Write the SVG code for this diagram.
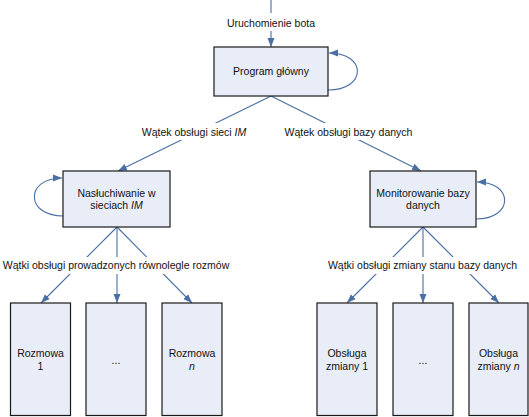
<svg xmlns="http://www.w3.org/2000/svg" width="529" height="417" viewBox="0 0 529 417">
<style>
.box{fill:#E8EDF7;stroke:#1a1a1a;stroke-width:1.2}
.t{font-family:"Liberation Sans",Arial,sans-serif;font-size:10.5px;fill:#111;text-anchor:middle}
.c{fill:none;stroke:#4A6FA5;stroke-width:1.1;marker-end:url(#ah)}
.bg{fill:#fff}
</style>
<defs>
<marker id="ah" markerUnits="userSpaceOnUse" markerWidth="10" markerHeight="10" viewBox="0 0 10 10" refX="9" refY="5" orient="auto">
<path d="M0,1.5 L9,5 L0,8.5 Z" fill="#4A6FA5"/>
</marker>
</defs>
<rect width="529" height="417" fill="#fff"/>
<g id="connectors">
<path class="c" d="M271,0 L271,47"/>
<path class="c" d="M328,90 C367,90 367,53 329,53"/>
<path class="c" d="M271,96 L118,171"/>
<path class="c" d="M271,96 L421,171"/>
<path class="c" d="M63,216 C25,216 25,178 62,178"/>
<path class="c" d="M476,219 C514,219 514,182 477,182"/>
<path class="c" d="M117,227 L41,303"/>
<path class="c" d="M117,227 L117,303"/>
<path class="c" d="M117,227 L192,303"/>
<path class="c" d="M423,227 L347,303"/>
<path class="c" d="M423,227 L423,303"/>
<path class="c" d="M423,227 L499,303"/>
</g>
<g id="labels">
<rect class="bg" x="226" y="13" width="92" height="18"/>
<text class="t" x="271" y="26.5">Uruchomienie bota</text>
<rect class="bg" x="139" y="123" width="111" height="17"/>
<text class="t" x="194" y="136">Wątek obsługi sieci <tspan font-style="italic">IM</tspan></text>
<rect class="bg" x="281" y="123" width="136" height="17"/>
<text class="t" x="348.5" y="136">Wątek obsługi bazy danych</text>
<rect class="bg" x="0" y="257" width="233" height="17"/>
<text class="t" x="116" y="269">Wątki obsługi prowadzonych równolegle rozmów</text>
<rect class="bg" x="325" y="257" width="195" height="17"/>
<text class="t" x="422.5" y="269">Wątki obsługi zmiany stanu bazy danych</text>
</g>
<g id="program">
<rect class="box" x="214" y="47" width="114" height="49"/>
<text class="t" x="271" y="74.5">Program główny</text>
</g>
<g id="nasluchiwanie">
<rect class="box" x="63" y="171" width="107" height="56"/>
<text class="t" x="116.5" y="196.5">Nasłuchiwanie w</text>
<text class="t" x="116.5" y="208.5">sieciach <tspan font-style="italic">IM</tspan></text>
</g>
<g id="monitorowanie">
<rect class="box" x="370" y="171" width="106" height="56"/>
<text class="t" x="423" y="196.5">Monitorowanie bazy</text>
<text class="t" x="423" y="208.5">danych</text>
</g>
<g id="rozmowa1">
<rect class="box" x="10.5" y="303" width="60" height="112.5"/>
<text class="t" x="40.5" y="356.5">Rozmowa</text>
<text class="t" x="40.5" y="370">1</text>
</g>
<g id="rozmowa-dots">
<rect class="box" x="86" y="303" width="60" height="112.5"/>
<text class="t" x="116" y="364" font-size="8">...</text>
</g>
<g id="rozmowan">
<rect class="box" x="162" y="303" width="60" height="112.5"/>
<text class="t" x="192" y="356.5">Rozmowa</text>
<text class="t" x="192" y="370" font-style="italic">n</text>
</g>
<g id="obsluga1">
<rect class="box" x="317" y="303" width="60" height="112.5"/>
<text class="t" x="347" y="356.5">Obsługa</text>
<text class="t" x="347" y="370">zmiany 1</text>
</g>
<g id="obsluga-dots">
<rect class="box" x="393" y="303" width="60" height="112.5"/>
<text class="t" x="423" y="364" font-size="8">...</text>
</g>
<g id="obslugan">
<rect class="box" x="469" y="303" width="59" height="112.5"/>
<text class="t" x="498.5" y="356.5">Obsługa</text>
<text class="t" x="498.5" y="370">zmiany <tspan font-style="italic">n</tspan></text>
</g>
</svg>
